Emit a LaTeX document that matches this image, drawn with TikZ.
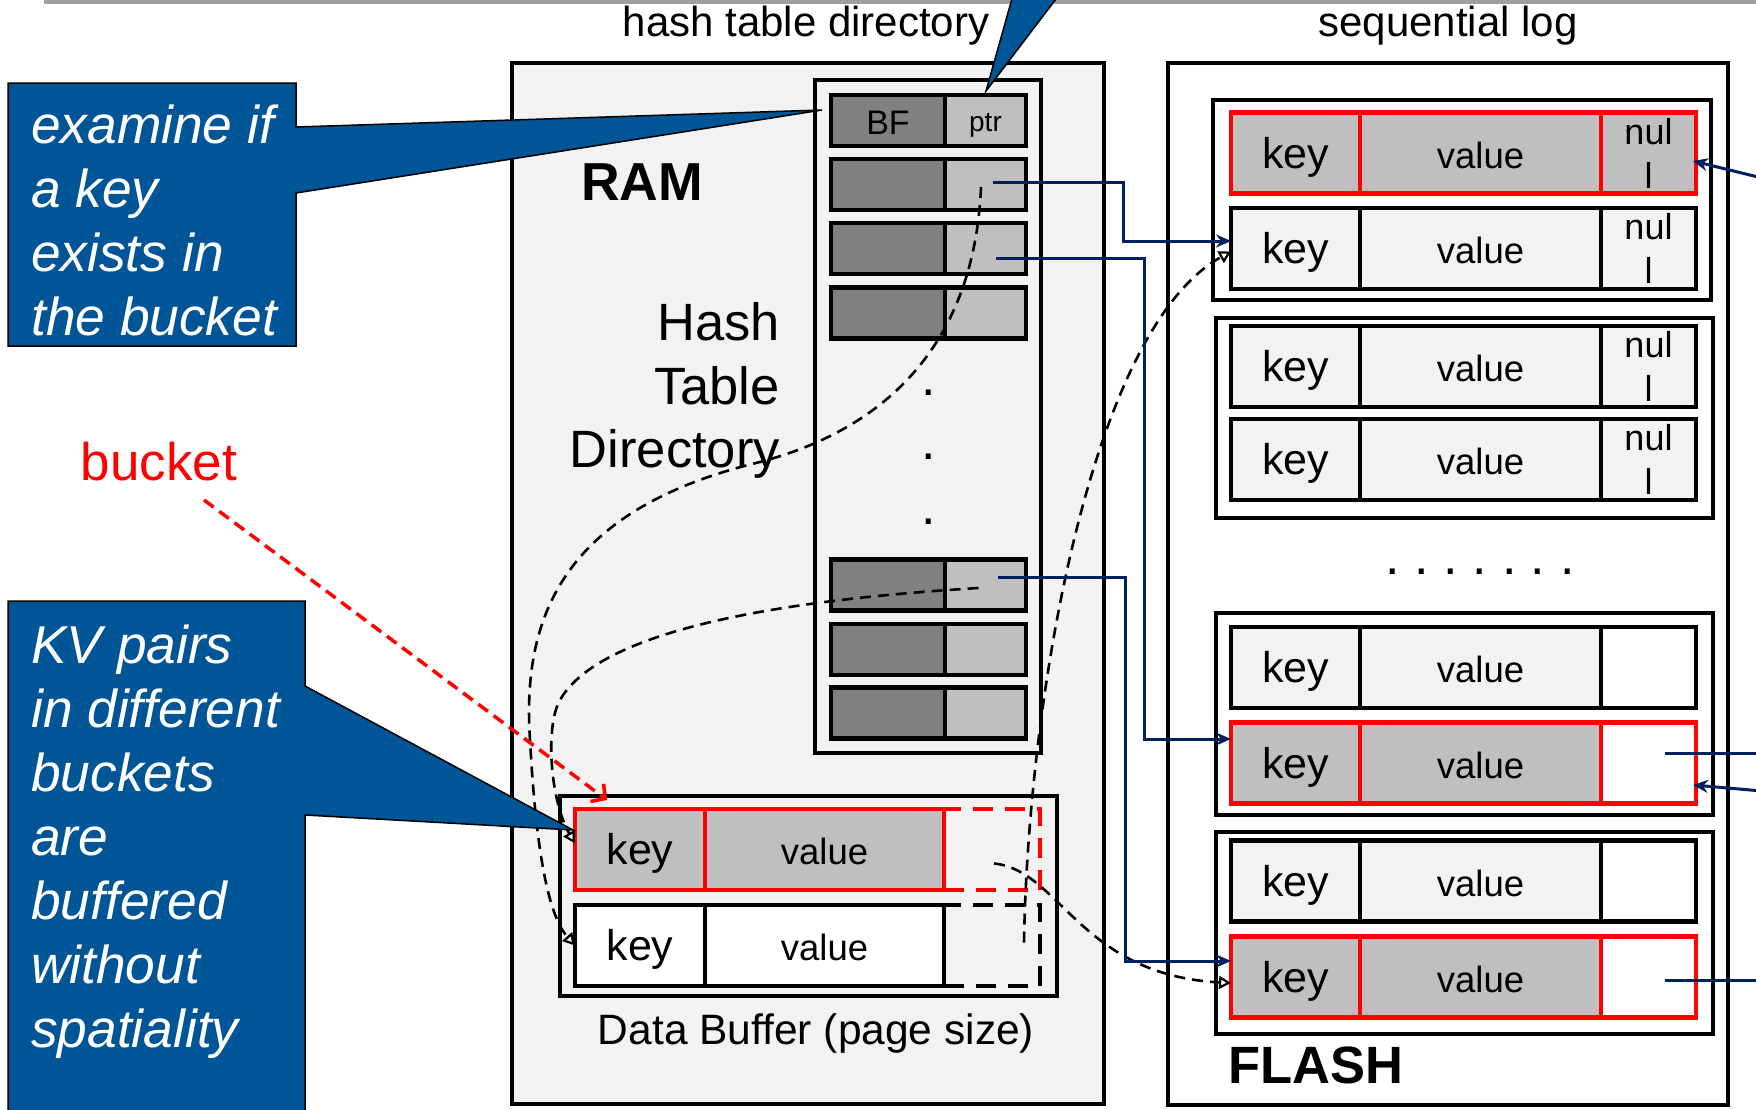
\documentclass[tikz,border=0pt]{standalone}
\usepackage{fontspec}
\setmainfont{Liberation Sans}
\usetikzlibrary{arrows.meta}

\definecolor{calloutblue}{RGB}{0,85,150}
\definecolor{linknavy}{RGB}{0,32,96}
\definecolor{paneltint}{RGB}{242,242,242}
\definecolor{cellgray}{RGB}{191,191,191}
\definecolor{bfgray}{RGB}{128,128,128}
\definecolor{rulegray}{RGB}{160,160,160}

\newcommand\fs[2]{\fontsize{#1}{#2}\selectfont}

\tikzset{
  panel/.style={draw=black, line width=4pt},
  kvcell/.style={rectangle, line width=4.5pt, inner sep=0pt, outer sep=0pt,
    minimum height=81pt, text height=30pt, text depth=0pt},
  keytext/.style={font=\fs{43}{46}},
  valtext/.style={font=\fs{36.5}{40}},
  endcell/.style={rectangle, line width=4.5pt, inner sep=0pt, outer sep=0pt,
    minimum height=81pt, minimum width=95pt, align=center, font=\fs{36}{44}},
  bufext/.style={rectangle, line width=4pt, inner sep=0pt, outer sep=0pt,
    minimum height=81pt, minimum width=96pt, dash pattern=on 20pt off 12pt},
  dircell/.style={rectangle, draw=black, line width=4.5pt, inner sep=0pt,
    outer sep=0pt, minimum height=51pt},
  dotmark/.style={inner sep=0pt, font=\fs{52}{52}},
  link/.style={draw=linknavy, line width=3pt},
  linkarrow/.style={link, -{Stealth[length=15pt, width=13pt, inset=5pt]}},
  trail/.style={draw=black, line width=2.6pt, dash pattern=on 11pt off 7pt},
  trailarrow/.style={trail, -{Triangle[open, length=12pt, width=13pt, line width=2.2pt]}},
  calloutshape/.style={fill=calloutblue, draw=black, line width=1.5pt},
  callouttext/.style={text=white, font=\fs{53.3}{64}\itshape, align=left,
    inner sep=0pt, anchor=north west},
  heading/.style={inner sep=0pt, anchor=base, font=\fs{42}{46}},
}

% one record of the log: key | value | link field
\newcommand\logrow[6]{%
  \node[kvcell, keytext, draw=#3, fill=#4, minimum width=129pt] (#1k) at (1295.5,#2) {key};
  \node[kvcell, valtext, draw=#3, fill=#4, minimum width=241pt] (#1v) at (1480.5,#2) {value};
  \node[endcell, draw=#3, fill=#5] (#1t) at (1648.5,#2) {#6};
}
% one slot of the directory: Bloom filter | pointer
\newcommand\dirslot[4]{%
  \node[dircell, fill=bfgray, minimum width=114pt, text height=27pt, text depth=0pt,
    font=\fs{34}{36}] (#1b) at (888,#2) {#3};
  \node[dircell, fill=cellgray, minimum width=81pt, text height=22pt, text depth=0pt,
    font=\fs{28}{30}] (#1p) at (985.5,#2) {#4};
}

\begin{document}
\begin{tikzpicture}[x=1pt, y=-1pt]
\useasboundingbox (0,0) rectangle (1756,1109);
\clip (0,0) rectangle (1756,1109);
\fill[white] (0,0) rectangle (1756,1109);
\fill[rulegray] (44,0) rectangle (1756,3.5);

% headings
\node[heading] (hdir) at (806,36) {hash table directory};
\node[heading] (hlog) at (1448,36) {sequential log};

% memory and flash panels
\draw[panel, fill=paneltint] (512,63) rectangle (1104,1104);
\draw[panel, fill=white] (1168,63) rectangle (1728,1105);

\node[inner sep=0pt, anchor=base, font=\fs{53.5}{56}\bfseries] (ram) at (642,200) {RAM};
\node[inner sep=0pt, anchor=base west, font=\fs{52.5}{56}\bfseries] (flash) at (1228,1083) {FLASH};
\node[inner sep=0pt, anchor=north east, align=right, font=\fs{52.5}{63.5}] (htd) at (780,302.5)
  {Hash\\Table\\Directory};

% hash table directory
\draw[panel, line width=4.5pt, fill=paneltint] (815,80) rectangle (1041,753);
\dirslot{d1}{120.5}{BF}{ptr}
\dirslot{d2}{184.5}{}{}
\dirslot{d3}{248.5}{}{}
\dirslot{d4}{313}{}{}
\dirslot{d5}{585}{}{}
\dirslot{d6}{649.5}{}{}
\dirslot{d7}{713}{}{}
\node[dotmark] (dd1) at (929,393) {.};
\node[dotmark] (dd2) at (929,457) {.};
\node[dotmark] (dd3) at (929,522) {.};

% data buffer
\draw[panel, fill=paneltint] (560,796) rectangle (1057,996);
\node[bufext, draw=red] (bx1) at (992,849.5) {};
\node[bufext, draw=black] (bx2) at (992,945.5) {};
\node[kvcell, keytext, draw=red, fill=cellgray, minimum width=130pt] (bk1) at (640,849.5) {key};
\node[kvcell, valtext, draw=red, fill=cellgray, minimum width=239pt] (bv1) at (824.5,849.5) {value};
\node[kvcell, keytext, draw=black, fill=white, minimum width=130pt] (bk2) at (640,945.5) {key};
\node[kvcell, valtext, draw=black, fill=white, minimum width=239pt] (bv2) at (824.5,945.5) {value};
\node[inner sep=0pt, anchor=base, font=\fs{42.5}{46}] (dbuf) at (816,1044) {Data Buffer (page size)};

% flash pages
\draw[panel, line width=4.5pt] (1213,100) rectangle (1711,300);
\draw[panel, line width=4.5pt] (1216,318) rectangle (1713,518);
\draw[panel, line width=4.5pt] (1216,613) rectangle (1713,815);
\draw[panel, line width=4.5pt] (1216,832) rectangle (1713,1034);
\logrow{f1}{153}{red}{cellgray}{cellgray}{nul\\l}
\logrow{f2}{248.5}{black}{paneltint}{paneltint}{nul\\l}
\logrow{f3}{366.5}{black}{paneltint}{paneltint}{nul\\l}
\logrow{f4}{459.5}{black}{paneltint}{paneltint}{nul\\l}
\logrow{f5}{667.5}{black}{paneltint}{white}{}
\logrow{f6}{763}{red}{cellgray}{white}{}
\logrow{f7}{881}{black}{paneltint}{white}{}
\logrow{f8}{977}{red}{cellgray}{white}{}
\foreach \i/\x in {1/1393,2/1422,3/1451,4/1480,5/1510,6/1538,7/1568}
  \node[dotmark] (fd\i) at (\x,572) {.};

% buffered records and where they go
\draw[trailarrow] ([xshift=-4.5pt, yshift=-2.5pt]d2p.center)
  .. controls (975,330) and (900,425) .. (760,462)
  .. controls (560,510) and (522,620) .. (530,740)
  .. controls (536,850) and (548,915) .. (bk2.west);
\draw[trailarrow] ([xshift=-7pt, yshift=-3pt]d5p.center)
  .. controls (780,600) and (600,630) .. (560,700)
  .. controls (545,726) and (550,800) .. ([yshift=6pt]bk1.west);
\draw[trailarrow] ([xshift=2pt, yshift=-14pt]bx1.center)
  .. controls (1060,870) and (1080,975) .. ([yshift=-6pt]f8k.west);
\draw[trailarrow] ([xshift=32pt, yshift=3pt]bx2.center)
  .. controls (1028,700) and (1090,330) .. ([yshift=-3pt]f2k.west);

% directory pointers into the log
\coordinate (j1) at (1123,241);
\coordinate (j2) at (1144,739);
\coordinate (j3) at (1125,961);
\draw[linkarrow] ([xshift=7pt, yshift=2pt]d2p.center) -| (j1) -- (j1 -| f2k.west);
\draw[linkarrow] ([xshift=10pt, yshift=-10pt]d3p.center) -| (j2) -- (j2 -| f6k.west);
\draw[linkarrow] ([xshift=12pt, yshift=8pt]d5p.center) -| (j3) -- (j3 -| f8k.west);

% chain links leaving the visible log
\coordinate (e1) at (1762,178);
\coordinate (e2) at (1762,753);
\coordinate (e3) at (1762,791);
\coordinate (e4) at (1762,980);
\draw[linkarrow] (e1) -- ([xshift=-3pt, yshift=-8pt]f1t.east);
\draw[link] ([xshift=16pt, yshift=10pt]f6t.center) -- (e2);
\draw[linkarrow] (e3) -- ([xshift=-3pt, yshift=-22pt]f6t.east);
\draw[link] ([xshift=16pt, yshift=-3pt]f8t.center) -- (e4);

% callouts
\path[calloutshape] (1013,-5) -- (986,91) -- (1059,-5) -- cycle;
\path[calloutshape] (8,83) -- (296,83) -- (296,127) -- (822,110) -- (296,193)
  -- (296,346) -- (8,346) -- cycle;
\node[callouttext] (c1) at (31,105) {examine if\\a key\\exists in\\the bucket};
\path[calloutshape] (8,601) -- (305,601) -- (305,686) -- (573,830) -- (305,815)
  -- (305,1120) -- (8,1120) -- cycle;
\node[callouttext] (c2) at (31,625)
  {KV pairs\\in different\\buckets\\are\\buffered\\without\\spatiality};

% bucket label
\node[inner sep=0pt, anchor=base, text=red, font=\fs{53}{56}] (bucket) at (159,480) {bucket};
\coordinate (bs) at (204,500);
\draw[red, line width=3.5pt, dash pattern=on 12pt off 7pt,
  -{Straight Barb[length=10pt, width=22pt]}] (bs) -- ([xshift=-33pt, yshift=9pt]bk1.north);
\end{tikzpicture}
\end{document}
